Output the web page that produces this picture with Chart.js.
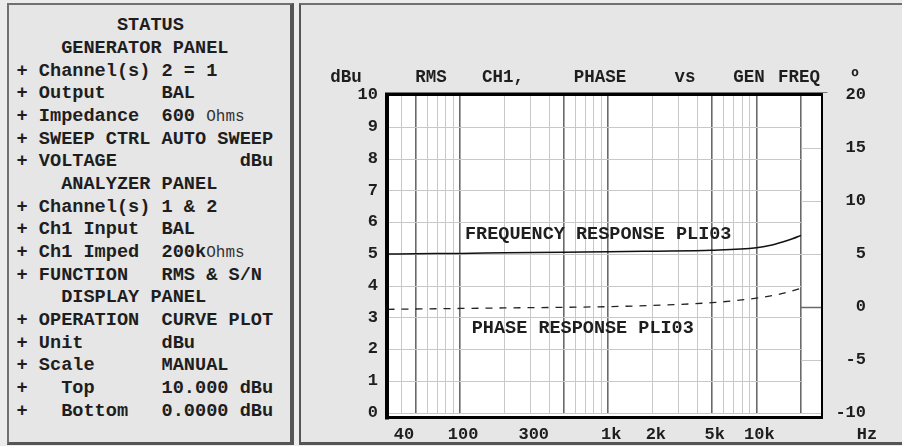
<!DOCTYPE html>
<html>
<head>
<meta charset="utf-8">
<script src="https://cdn.jsdelivr.net/npm/chart.js@4.4.1/dist/chart.umd.min.js"></script>
<style>
  html, body { margin: 0; padding: 0; }
  body { width: 902px; height: 446px; background: #ececec; position: relative; overflow: hidden; }
  #left, #right { position: absolute; box-sizing: border-box; background: #e6e6e6; }
  #left { left: 7px; top: 3px; width: 287px; height: 442px;
    border-left: 2px solid #707070; border-top: 2px solid #707070;
    border-right: 4px solid #555; border-bottom: 3px solid #555; }
  #right { left: 299px; top: 3px; width: 603px; height: 442px;
    border-left: 2px solid #555; border-top: 2px solid #707070; border-bottom: 3px solid #555; }
  #status { position: absolute; left: 16.5px; top: 15.4px; margin: 0;
    font: bold 18.6px "Liberation Mono", "Courier New", monospace; line-height: 22.65px; color: #1e1e1e; }
  #status span { font-weight: normal; font-size: 16px; color: #333; }
  #chart { position: absolute; left: 300px; top: 0; }
</style>
</head>
<body>
<div id="left"></div>
<div id="right"></div>
<pre id="status">         STATUS
    GENERATOR PANEL
+ Channel(s) 2 = 1
+ Output     BAL
+ Impedance  600 <span>Ohms</span>
+ SWEEP CTRL AUTO SWEEP
+ VOLTAGE           dBu
    ANALYZER PANEL
+ Channel(s) 1 &amp; 2
+ Ch1 Input  BAL
+ Ch1 Imped  200k<span>Ohms</span>
+ FUNCTION   RMS &amp; S/N
    DISPLAY PANEL
+ OPERATION  CURVE PLOT
+ Unit       dBu
+ Scale      MANUAL
+   Top      10.000 dBu
+   Bottom   0.0000 dBu</pre>
<canvas id="chart" width="602" height="446"></canvas>
<script>
// sweep data
const freqHz   = [32.4, 50, 100, 200, 500, 1000, 2000, 5000, 10000, 12500, 15000, 17500, 20000];
const levelDbu = [4.99, 5.00, 5.01, 5.03, 5.05, 5.06, 5.08, 5.11, 5.19, 5.27, 5.37, 5.47, 5.58];
const phaseDeg = [-0.25, -0.22, -0.17, -0.12, -0.06, 0.0, 0.12, 0.38, 0.80, 1.02, 1.25, 1.50, 1.73];

// axis ticks
const gridHz = [40, 50, 60, 70, 80, 90, 100, 200, 300, 400, 500, 600, 700, 800, 900,
  1000, 2000, 3000, 4000, 5000, 6000, 7000, 8000, 9000, 10000, 20000];
const majorHz = [50, 100, 500, 1000, 5000, 10000, 20000];
const freqLabels = { 40: "40", 100: "100", 300: "300", 1000: "1k", 2000: "2k", 5000: "5k", 10000: "10k" };
const levelTicks = [0, 1, 2, 3, 4, 5, 6, 7, 8, 9];
const phaseTicks = [-10, -5, 0, 5, 10, 15];
const titleWords = [["dBu", 46], ["RMS", 131], ["CH1,", 203], ["PHASE", 300], ["vs", 385], ["GEN", 449], ["FREQ", 499], ["º", 555]];

const monoFont = "'Liberation Mono', 'Courier New', monospace";
const ink = "#1e1e1e";

const panelPlugin = {
    id: "panel",
    beforeDraw(chart) {
        const { ctx, chartArea: a } = chart;
        ctx.save();
        ctx.fillStyle = "#fff";
        ctx.fillRect(a.left, a.top, a.right - a.left, a.bottom + 4 - a.top);
        ctx.restore();
    },
    beforeDatasetsDraw(chart) {
        // horizontal grid: level lines stop at 20k, phase lines fill the last strip
        const { ctx, chartArea: a, scales } = chart;
        const x20k = scales.x.getPixelForValue(20000);
        ctx.save();
        ctx.lineWidth = 1;
        levelTicks.forEach(v => {
            const y = Math.round(scales.y.getPixelForValue(v)) + 0.5;
            ctx.strokeStyle = "#c8c8c8";
            ctx.beginPath(); ctx.moveTo(a.left, y); ctx.lineTo(x20k, y); ctx.stroke();
        });
        phaseTicks.forEach(v => {
            const y = Math.round(scales.y2.getPixelForValue(v)) + 0.5;
            ctx.strokeStyle = v === 0 ? "#6a6a6a" : "#c8c8c8";
            ctx.lineWidth = v === 0 ? 1.5 : 1;
            ctx.beginPath(); ctx.moveTo(x20k, y); ctx.lineTo(a.right, y); ctx.stroke();
        });
        ctx.restore();
    },
    afterDraw(chart) {
        const { ctx, chartArea: a, scales } = chart;
        ctx.save();
        // frame
        ctx.fillStyle = "#777";
        ctx.fillRect(a.left - 2.5, a.top - 3, a.right - a.left + 8, 1);
        ctx.fillStyle = "#000";
        ctx.fillRect(a.left - 2.5, a.top - 2, 4, a.bottom - a.top + 9);
        ctx.fillRect(a.left - 2.5, a.top - 2, a.right - a.left + 3.5, 3);
        ctx.fillRect(a.left - 2.5, a.bottom + 3.5, a.right - a.left + 3.5, 3);
        ctx.fillRect(a.right - 1, a.top - 2, 2, a.bottom - a.top + 8.5);

        ctx.fillStyle = ink;
        ctx.textBaseline = "middle";
        // title row
        ctx.font = "bold 17.5px " + monoFont;
        ctx.textAlign = "center";
        titleWords.forEach(([w, x]) => ctx.fillText(w, x, 78));
        // unit of x axis
        ctx.font = "bold 17px " + monoFont;
        ctx.fillText("Hz", 567, 435);
        // curve names
        ctx.font = "bold 18.5px " + monoFont;
        ctx.textAlign = "left";
        ctx.fillText("FREQUENCY RESPONSE PLI03", scales.x.getPixelForValue(108), scales.y.getPixelForValue(5.6));
        ctx.fillText("PHASE RESPONSE PLI03", scales.x.getPixelForValue(120), scales.y.getPixelForValue(2.66));
        ctx.restore();
    }
};

const tickFont = { family: monoFont, size: 17, weight: "bold" };

new Chart(document.getElementById("chart"), {
    type: "line",
    data: {
        datasets: [
            {
                label: "FREQUENCY RESPONSE PLI03",
                data: freqHz.map((f, i) => ({ x: f, y: levelDbu[i] })),
                yAxisID: "y",
                borderColor: "#111",
                borderWidth: 1.5,
                pointRadius: 0,
                cubicInterpolationMode: "monotone"
            },
            {
                label: "PHASE RESPONSE PLI03",
                data: freqHz.map((f, i) => ({ x: f, y: phaseDeg[i] })),
                yAxisID: "y2",
                borderColor: "#222",
                borderWidth: 1.3,
                borderDash: [7, 7],
                pointRadius: 0,
                cubicInterpolationMode: "monotone"
            }
        ]
    },
    options: {
        responsive: false,
        devicePixelRatio: 1,
        animation: false,
        layout: { padding: { top: 95, right: 36, bottom: 0, left: 0 } },
        plugins: { legend: { display: false }, tooltip: { enabled: false } },
        scales: {
            x: {
                type: "logarithmic",
                min: 32.4,
                max: 27700,
                afterBuildTicks: s => { s.ticks = gridHz.map(v => ({ value: v })); },
                afterFit: s => { s.height = 33.5; },
                border: { display: false },
                grid: {
                    drawTicks: false,
                    color: c => majorHz.includes(c.tick.value) ? "#6a6a6a" : "#c8c8c8",
                    lineWidth: c => majorHz.includes(c.tick.value) ? 1.6 : 1
                },
                ticks: {
                    autoSkip: false, maxRotation: 0, minRotation: 0,
                    padding: 12, labelOffset: 3,
                    font: tickFont, color: ink,
                    callback: v => freqLabels[v] || ""
                }
            },
            y: {
                min: 0, max: 10,
                afterFit: s => { s.width = 87.5; },
                border: { display: false },
                grid: { display: false, drawTicks: false },
                ticks: { stepSize: 1, padding: 9.5, font: tickFont, color: ink }
            },
            y2: {
                position: "right",
                min: -10, max: 20,
                afterFit: s => { s.width = 44; },
                border: { display: false },
                grid: { display: false, drawTicks: false },
                ticks: { stepSize: 5, crossAlign: "far", font: tickFont, color: ink }
            }
        }
    },
    plugins: [panelPlugin]
});
</script>
</body>
</html>
